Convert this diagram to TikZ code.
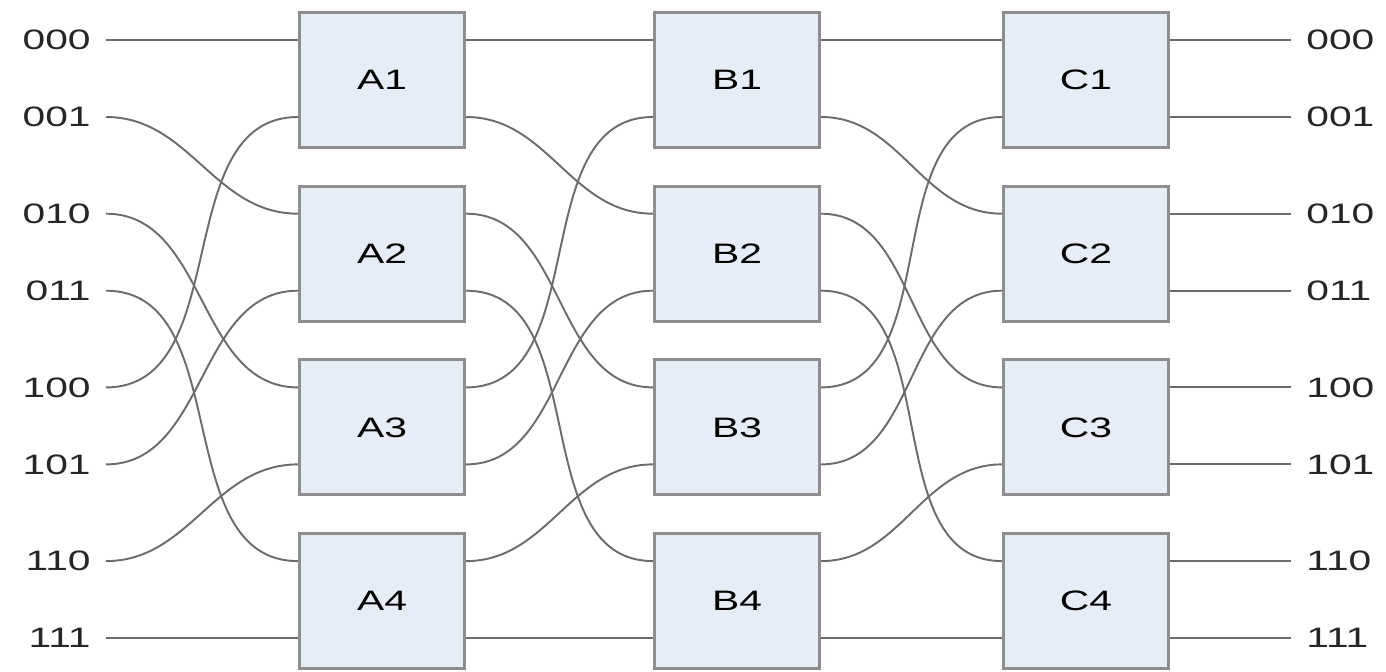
\documentclass[tikz,border=0pt]{standalone}
\usepackage{fontspec}
\setmainfont{Liberation Sans}
\usetikzlibrary{calc,positioning}

\definecolor{boxfill}{HTML}{E6EDF7}
\definecolor{boxedge}{HTML}{8E8E8E}
\definecolor{wirecol}{HTML}{6C6C6C}
\newcommand{\wide}[1]{\scalebox{1.45}[1]{#1}}

\begin{document}
\begin{tikzpicture}[x=0.02cm,y=-0.02cm,
    switchbox/.style={draw=boxedge,line width=1.8pt,fill=boxfill,
      minimum width=3.3cm,minimum height=2.7cm,inner sep=0pt,
      font=\fontsize{16}{18}\selectfont},
    portlabel/.style={font=\fontsize{16}{18}\selectfont,inner xsep=0.3cm,
      inner ysep=0pt,text=black!85},
    wire/.style={draw=wirecol,line width=1.1pt}]
  \useasboundingbox (0,0) rectangle (1386,672);

  % Draw the three stages of 2x2 switches
  \foreach \col/\x in {A/382,B/737,C/1086}
    \foreach \k in {1,...,4}
      \node[switchbox] (\col\k) at (\x,{80+173.7*(\k-1)}) {\wide{\col\k}};

  % Two ports on each side of every switch
  \foreach \col in {A,B,C}
    \foreach \j in {0,...,7} {
      \pgfmathtruncatemacro{\k}{int(\j/2)+1}
      \pgfmathsetmacro{\dy}{mod(\j,2)==0 ? -40 : 37}
      \coordinate (\col in\j) at ($(\col\k.west)+(0,\dy)$);
      \coordinate (\col out\j) at ($(\col\k.east)+(0,\dy)$);
    }

  % Input and output labels
  \foreach \j/\bits in {0/000,1/001,2/010,3/011,4/100,5/101,6/110,7/111} {
    \node[portlabel,left=3.84cm of Ain\j] (in\j) {\wide{\bits}};
    \node[portlabel,right=2.42cm of Cout\j] (out\j) {\wide{\bits}};
  }

  % Perfect shuffle between the stages
  \foreach \i in {0,...,7} {
    \pgfmathtruncatemacro{\t}{2*mod(\i,4)+int(\i/4)}
    \draw[wire] (in\i.east) to[out=0,in=180] (Ain\t);
    \draw[wire] (Aout\i) to[out=0,in=180] (Bin\t);
    \draw[wire] (Bout\i) to[out=0,in=180] (Cin\t);
    \draw[wire] (Cout\i) -- (out\i.west);
  }
\end{tikzpicture}
\end{document}
